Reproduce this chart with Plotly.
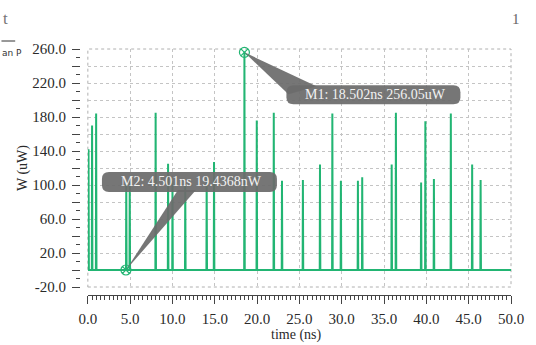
import plotly.graph_objects as go

# Power spikes: peak time (ns) and peak power (uW)
spike_times = [0.08, 0.50, 0.98, 4.54, 4.95, 8.01, 9.48, 10.00, 11.51, 14.04,
               14.91, 18.502, 19.96, 21.97, 22.94, 25.41, 27.43, 28.89, 29.90,
               31.91, 32.42, 35.90, 36.40, 39.38, 39.88, 40.89, 42.89, 45.41, 46.41]
spike_peaks = [142, 170, 184, 105, 104, 185, 125, 104, 102, 110,
               127, 256.05, 176, 185, 105, 106, 124, 184, 105,
               105, 109, 124, 185, 103, 175, 107, 184, 124, 106]
baseline = 0.0
t_start, t_end = 0.0, 50.0

# Marker readouts
m1 = dict(label="M1: 18.502ns 256.05uW", t=18.502, v=256.05)
m2 = dict(label="M2: 4.501ns 19.4368nW", t=4.501, v=0.0194368)

y_tick_vals = list(range(-20, 261, 20))
y_tick_text = [f"{v:.1f}" if (v + 20) % 40 == 0 else "" for v in y_tick_vals]
x_tick_vals = [0, 5, 10, 15, 20, 25, 30, 35, 40, 45, 50]

GREEN = "#22b573"
SERIF = "Liberation Serif"

# Build the waveform: flat baseline with narrow triangular pulses
xs, ys = [t_start], [baseline]
for t, p in zip(spike_times, spike_peaks):
    xs += [t - 0.03, t, t + 0.04]
    ys += [baseline, p, baseline]
xs.append(t_end)
ys.append(baseline)

fig = go.Figure()
fig.add_trace(go.Scatter(x=xs, y=ys, mode="lines",
                         line=dict(color=GREEN, width=2), hoverinfo="skip"))
fig.add_trace(go.Scatter(x=[m1["t"], m2["t"]], y=[m1["v"], m2["v"]], mode="markers",
                         marker=dict(symbol="circle-x-open", size=10, color=GREEN,
                                     line=dict(width=1.2, color=GREEN)),
                         cliponaxis=False, hoverinfo="skip"))

BOX = "#6c6c6c"


def rounded(x0, x1, y0, y1, r):
    return (f"M {x0+r} {y0} L {x1-r} {y0} Q {x1} {y0} {x1} {y0+r} "
            f"L {x1} {y1-r} Q {x1} {y1} {x1-r} {y1} L {x0+r} {y1} "
            f"Q {x0} {y1} {x0} {y1-r} L {x0} {y0+r} Q {x0} {y0} {x0+r} {y0} Z")


def callout(m, box, wedge, text_shift):
    common = dict(type="path", xref="x", yref="y", xsizemode="pixel",
                  ysizemode="pixel", xanchor=m["t"], yanchor=m["v"],
                  fillcolor=BOX, line=dict(width=0), opacity=0.93, layer="above")
    fig.add_shape(path=rounded(*box, 7), **common)
    fig.add_shape(path=wedge, **common)
    fig.add_annotation(x=m["t"], y=m["v"], xref="x", yref="y", showarrow=False,
                       xshift=text_shift[0], yshift=text_shift[1], text=m["label"],
                       font=dict(family=SERIF, size=14, color="#f2f2f2"))


callout(m1, (42, 216, -52, -33), "M 0 0 L 72 -34 L 44 -42 Z", (131, -42))
callout(m2, (-24, 151, 78, 98), "M 0 0 L 52 80 L 70 80 Z", (66, 88))

axis_font = dict(family=SERIF, size=15, color="#2a2a2a")

fig.update_layout(
    width=536, height=345,
    margin=dict(l=80, r=17, t=49, b=50),
    plot_bgcolor="white", paper_bgcolor="white",
    showlegend=False,
    xaxis=dict(range=[t_start, t_end], domain=[0.0182, 1], anchor="free", position=0,
               tickvals=x_tick_vals, ticktext=[f"{v:.1f}" for v in x_tick_vals],
               ticks="outside", ticklen=8, tickwidth=1, tickcolor="#444",
               showline=True, linecolor="#444", linewidth=1,
               minor=dict(dtick=0.5, ticks="outside", ticklen=4, tickcolor="#444",
                          showgrid=False),
               showgrid=True, gridcolor="#c4c4c4", griddash="dot", gridwidth=1,
               zeroline=False, tickfont=axis_font, ticklabelstandoff=2),
    yaxis=dict(range=[-20, 260], domain=[0.0325, 1], anchor="free", position=0,
               tickvals=y_tick_vals, ticktext=y_tick_text,
               ticks="outside", ticklen=8, tickwidth=1, tickcolor="#444",
               showline=False,
               minor=dict(dtick=10, ticks="outside", ticklen=4, tickcolor="#444",
                          showgrid=False),
               showgrid=True, gridcolor="#c4c4c4", griddash="dot", gridwidth=1,
               zeroline=False, tickfont=axis_font, ticklabelstandoff=3),
)

# Dotted frame round the plotting region
fig.add_shape(type="rect", xref="x domain", yref="y domain", x0=0, x1=1, y0=0, y1=1,
              line=dict(color="#b0b0b0", width=1, dash="dot"), layer="below")


def paper_x(px):
    return (px - 80) / 439


def paper_y(py):
    return (295 - py) / 246


def label(px, py, text, font, **kw):
    fig.add_annotation(xref="paper", yref="paper", x=paper_x(px), y=paper_y(py),
                       showarrow=False, text=text, font=font,
                       xanchor=kw.pop("xanchor", "center"), yanchor="middle", **kw)


# Axis titles and header remnants
label(300, 335, "time (ns)", dict(family=SERIF, size=14, color="#2a2a2a"))
label(22, 168, "W (uW)", dict(family=SERIF, size=14, color="#2a2a2a"), textangle=-90)
label(9, 19, "t", dict(family=SERIF, size=17, color="#777777"), xanchor="right")
label(524, 19, "1", dict(family=SERIF, size=15, color="#666666"))
label(-1, 53, "an P", dict(family="DejaVu Sans", size=9, color="#333333"), xanchor="left")
fig.add_shape(type="line", xref="paper", yref="paper", x0=paper_x(0), x1=paper_x(14),
              y0=paper_y(41), y1=paper_y(41), line=dict(color="#333333", width=1))

fig.write_html("out.html", config=dict(displayModeBar=False))
